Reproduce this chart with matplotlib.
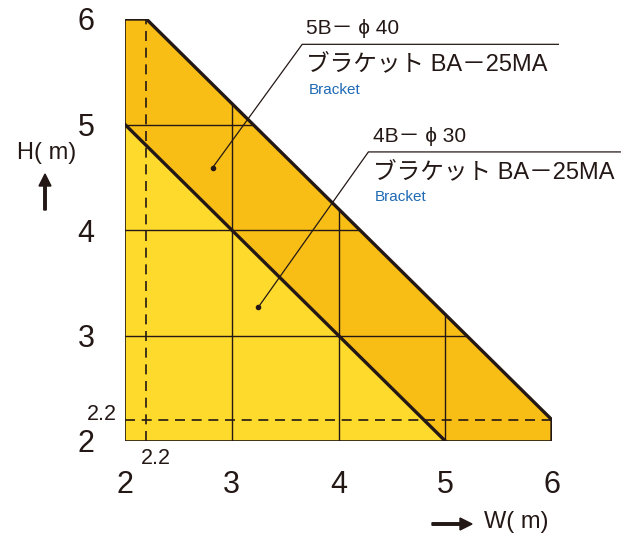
import matplotlib
matplotlib.use("Agg")
import matplotlib.pyplot as plt
import numpy as np

plt.rcParams["font.family"] = ["Liberation Sans", "Noto Sans CJK JP", "DejaVu Sans"]

# chart values (W, H in metres)
ticks = [2, 3, 4, 5, 6]
outer_w = [2, 2, 2.2, 6, 6]
outer_h = [2, 6, 6, 2.2, 2]
inner_w = [2, 2, 5]
inner_h = [2, 5, 2]
grid_levels = [3, 4, 5]
dash_level = 2.2
series = [
    {"name": "5B－ ϕ 40", "model": "ブラケット BA－25MA", "sub": "Bracket",
     "dot": (2.82, 4.59), "corner": (3.66, 5.76), "end": 6.06},
    {"name": "4B－ ϕ 30", "model": "ブラケット BA－25MA", "sub": "Bracket",
     "dot": (3.25, 3.27), "corner": (4.28, 4.74), "end": 6.64},
]

dark = "#F8BE16"
light = "#FEDA2C"
ink = "#231815"

W, H = 632, 543
fig = plt.figure(figsize=(W / 100, H / 100), dpi=100)
ax = fig.add_axes([125 / W, (H - 441) / H, 427 / W, 422 / H])
ax.set_xlim(2, 6)
ax.set_ylim(2, 6)

ax.fill(outer_w, outer_h, color=dark, lw=0, zorder=1)
ax.fill(inner_w, inner_h, color=light, lw=0, zorder=2)


def outer_limit(v):
    # outer diagonal: from (2.2, 6) to (6, 2.2)
    return np.interp(v, [outer_w[2], outer_w[3]], [outer_h[2], outer_h[3]])


for lv in grid_levels:
    top = float(outer_limit(lv))
    ax.plot([lv, lv], [2, top], color=ink, lw=1.0, zorder=3)
    ax.plot([2, top], [lv, lv], color=ink, lw=1.0, zorder=3)

ax.plot([dash_level, dash_level], [2, 6], color=ink, lw=1.2, ls=(0, (6, 4)), zorder=3)
ax.plot([2, 6], [dash_level, dash_level], color=ink, lw=1.2, ls=(0, (6, 4)), zorder=3)

# edges
ax.plot(outer_w[1:], outer_h[1:], color=ink, lw=2.4, zorder=4, solid_capstyle="butt")
ax.plot([outer_w[0], outer_w[1]], [outer_h[0], outer_h[1]], color=ink, lw=1.2, zorder=4)
ax.plot([outer_w[0], outer_w[-1]], [outer_h[0], outer_h[-1]], color=ink, lw=1.2, zorder=4)
ax.plot(inner_w[1:], inner_h[1:], color=ink, lw=2.4, zorder=4)

for s in ax.spines.values():
    s.set_visible(False)
ax.set_xticks(ticks)
ax.set_yticks(ticks)
ax.tick_params(length=0, labelsize=22, colors=ink, pad=21)
ax.tick_params(axis="y", pad=22)

ax.text(1.92, dash_level + 0.05, "2.2", fontsize=15.5, color=ink, ha="right", va="center")
ax.text(dash_level + 0.09, 1.83, "2.2", fontsize=15.5, color=ink, ha="center", va="center")

for s in series:
    dx, dy = s["dot"]
    cx, cy = s["corner"]
    ax.plot([dx, cx, s["end"]], [dy, cy, cy], color=ink, lw=0.9, zorder=5, clip_on=False)
    ax.plot([dx], [dy], "o", color=ink, ms=3, zorder=6)
    ax.text(cx + 0.04, cy + 0.15, s["name"], fontsize=15, color=ink, va="center", clip_on=False)
    ax.text(cx + 0.04, cy - 0.19, s["model"], fontsize=17, color=ink, va="center", clip_on=False)
    ax.text(cx + 0.06, cy - 0.43, s["sub"], fontsize=11, color="#1E6AB4", va="center", clip_on=False)

# axis titles with arrows
fig.text(47 / W, 1 - 153 / H, "H( m)", fontsize=17, color=ink, ha="center", va="center")
fig.add_artist(matplotlib.patches.FancyArrow(45 / W, 1 - 210 / H, 0, 36 / H, width=2.5 / W,
                                             head_width=12 / W, head_length=12 / H,
                                             length_includes_head=True, color=ink,
                                             transform=fig.transFigure))
fig.text(516 / W, 1 - 522 / H, "W( m)", fontsize=17, color=ink, ha="center", va="center")
fig.add_artist(matplotlib.patches.FancyArrow(432 / W, 1 - 524 / H, 40 / W, 0, width=2.5 / H,
                                             head_width=12 / H, head_length=12 / W,
                                             length_includes_head=True, color=ink,
                                             transform=fig.transFigure))

fig.savefig("out.png", dpi=100)
